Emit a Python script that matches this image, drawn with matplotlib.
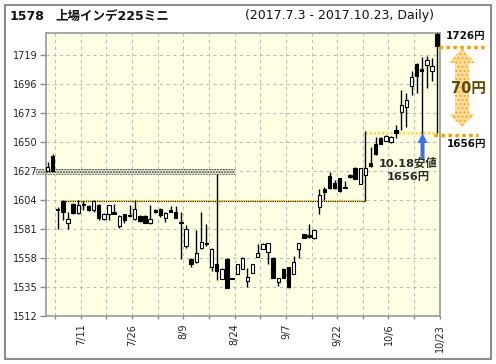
import matplotlib
matplotlib.use("Agg")
import matplotlib.pyplot as plt
import matplotlib.transforms as mtransforms
from matplotlib.patches import Rectangle, Polygon

# ----- data -----
DATES = ["7/3", "7/4", "7/5", "7/6", "7/7", "7/10", "7/11", "7/12", "7/13", "7/14",
         "7/18", "7/19", "7/20", "7/21", "7/24", "7/25", "7/26", "7/27", "7/28", "7/31",
         "8/1", "8/2", "8/3", "8/4", "8/7", "8/8", "8/9", "8/10", "8/14", "8/15",
         "8/16", "8/17", "8/18", "8/21", "8/22", "8/23", "8/24", "8/25", "8/28", "8/29",
         "8/30", "8/31", "9/1", "9/4", "9/5", "9/6", "9/7", "9/8", "9/11", "9/12",
         "9/13", "9/14", "9/15", "9/19", "9/20", "9/21", "9/22", "9/25", "9/26", "9/27",
         "9/28", "9/29", "10/2", "10/3", "10/4", "10/5", "10/6", "10/10", "10/11", "10/12",
         "10/13", "10/16", "10/17", "10/18", "10/19", "10/20", "10/23"]

OPEN = [1627, 1639, 1596.5, 1603, 1585.5, 1601, 1593.5, 1600, 1599.5, 1596,
        1600, 1589, 1592.8, 1594.7, 1583.3, 1592.8, 1592, 1589, 1591.3, 1591.5,
        1585.5, 1596, 1597, 1590, 1596, 1595, 1587, 1567.7, 1557, 1555,
        1566, 1569.5, 1551, 1553.6, 1541.7, 1557.6, 1542, 1545.7, 1549.7, 1540,
        1546.5, 1559, 1565.6, 1563, 1558.4, 1539, 1549.5, 1551, 1545.7, 1565.6,
        1577, 1576.5, 1574, 1598.7, 1612.5, 1623, 1617.8, 1621.5, 1614.3, 1624,
        1629.5, 1616.6, 1624.4, 1633.6, 1649, 1653.2, 1651.2, 1650.1, 1660, 1673.7,
        1677.7, 1695, 1712.1, 1708, 1711.7, 1707, 1736]
HIGH = [1634, 1641, 1598.5, 1604, 1595, 1602, 1604, 1603, 1600, 1604.5,
        1601, 1593.5, 1600.5, 1601.3, 1592, 1593, 1600, 1604, 1592, 1592,
        1600, 1597, 1597.5, 1594.5, 1599, 1599.5, 1595, 1584.6, 1558, 1580,
        1594.5, 1585, 1566, 1625, 1550, 1558, 1542.5, 1553.5, 1559, 1550,
        1553, 1569.5, 1570, 1570, 1558.5, 1542.5, 1550, 1551, 1560, 1569.6,
        1577.3, 1585, 1580.5, 1613, 1614.6, 1626.5, 1620, 1622, 1619, 1625,
        1630, 1629.5, 1659, 1646.4, 1654, 1654, 1656, 1655, 1663.9, 1691.7,
        1689, 1706.3, 1712.9, 1717.4, 1718.2, 1717, 1737.5]
LOW = [1627, 1627, 1581.5, 1588, 1581.5, 1593, 1593, 1596, 1595.5, 1594.5,
       1588.5, 1588, 1588.5, 1593, 1582, 1585.5, 1591, 1588.5, 1587, 1585.5,
       1585, 1594, 1591, 1587, 1594.5, 1590, 1557, 1566, 1551, 1554,
       1565.5, 1568, 1547.5, 1540.5, 1541, 1534, 1541, 1545, 1549, 1535,
       1546, 1558.5, 1565, 1553.7, 1542, 1536, 1542, 1534, 1545, 1558.4,
       1574, 1574.3, 1573.5, 1593.4, 1604.5, 1613, 1613, 1610.5, 1613.3, 1622,
       1621, 1616.5, 1603, 1630.5, 1640, 1648.5, 1651, 1649.5, 1653.3, 1659.9,
       1662, 1687.7, 1689, 1656, 1693, 1698.3, 1657]
CLOSE = [1630, 1627.5, 1596, 1595, 1589, 1593.5, 1600.5, 1600.3, 1596, 1603.5,
         1590, 1593, 1600, 1593.4, 1591.3, 1588, 1591.5, 1596.8, 1587.3, 1586,
         1589, 1595, 1592, 1594.2, 1595, 1590, 1585.5, 1581, 1553, 1562.4,
         1570.5, 1569, 1565, 1547.8, 1549.7, 1534.5, 1541, 1553, 1558.4, 1543,
         1553, 1562.4, 1569, 1569.6, 1542.5, 1542, 1542.5, 1535, 1555, 1569.6,
         1574.3, 1574.6, 1580.4, 1608, 1610.7, 1613.3, 1613.3, 1611.4, 1613.5, 1622.8,
         1621.2, 1629.2, 1629.2, 1631, 1640.5, 1648.7, 1654.7, 1654.3, 1657.4, 1679.8,
         1683.6, 1702.2, 1702.4, 1707, 1715.4, 1710.8, 1726.5]

Y_TICKS = [1512, 1535, 1558, 1581, 1604, 1627, 1650, 1673, 1696, 1719]
X_LABELS = ["7/11", "7/26", "8/9", "8/24", "9/7", "9/22", "10/6", "10/23"]

TITLE_CODE = "1578"
TITLE_NAME = "上場インデ225ミニ"
SUBTITLE = "(2017.7.3 - 2017.10.23, Daily)"

LAST_CLOSE = 1726
LOW_1018 = 1656
# ------------------------------------------

W, H = 496, 364
plt.rcParams['font.family'] = ['DejaVu Sans', 'Noto Sans CJK JP']
plt.rcParams['hatch.linewidth'] = 0.9

fig = plt.figure(figsize=(W / 100, H / 100), dpi=100)
fig.patch.set_facecolor("white")

# plot area in pixels: left 46, right 440, top 32.5, bottom 316
ax = fig.add_axes([46 / W, 1 - 316 / H, (440 - 46) / W, (316 - 32.5) / H])
ax.set_facecolor("#FFFFE3")

n = len(DATES)
xs = list(range(n))
ax.set_xlim(-0.3, 76.55)
ax.set_ylim(1512, 1737.2)

# grid / ticks
grid_pos = [i + 0.5 for i in range(1, n, 5)]
ax.set_xticks(grid_pos)
labels = []
for k, g in enumerate(grid_pos):
    labels.append(X_LABELS[k // 2] if k % 2 == 1 else "")
ax.set_xticklabels(labels, rotation=90, fontsize=7, color="#222222")
ax.set_yticks(Y_TICKS)
ax.set_yticklabels([str(v) for v in Y_TICKS], fontsize=7, color="#222222")
ax.tick_params(axis="both", colors="#888888", labelcolor="#222222", length=4.3, width=1)
ax.tick_params(axis="y", pad=2)
ax.tick_params(axis="x", length=2.5, pad=3)
ax.grid(True, color="#BDBDBD", linestyle=(0, (3, 3)), linewidth=0.8)
ax.set_axisbelow(True)
for s in ax.spines.values():
    s.set_color("#999999")
    s.set_linewidth(1.2)

# gap markers
ax.add_patch(Rectangle((-2.2, 1624.4), 36.55 + 2.2, 4.6, facecolor="#E8E8D4",
                       edgecolor="#3A3A3A", hatch="......", linewidth=0,
                       clip_on=False, zorder=1))
ax.plot([2.6, 62], [1604.4, 1604.4], color="#F5D24A", lw=0.8, zorder=1)
ax.plot([2.6, 62], [1603.6, 1603.6], color="black", lw=0.8, ls=(0, (1, 1)), zorder=1)
ax.add_patch(Rectangle((61.8, 1654.8), 76.55 - 61.8, 4.2, facecolor="#FFF9D0",
                       edgecolor="#F2CC3A", hatch="....", linewidth=0, zorder=1))

# candles
body_w = 0.66
for i in xs:
    o, h, l, c = OPEN[i], HIGH[i], LOW[i], CLOSE[i]
    ax.vlines(i, l, h, color="black", lw=1, zorder=3)
    bottom = min(o, c)
    height = max(abs(c - o), 0.8)
    face = "white" if c > o else "black"
    ax.bar(i, height, bottom=bottom, width=body_w, facecolor=face,
           edgecolor="black", linewidth=0.8, zorder=4)

# pixel coordinates (origin top-left) for annotations outside the plot
pix = mtransforms.Affine2D().scale(1 / W, -1 / H).translate(0, 1) + fig.transFigure

# figure border
fig.add_artist(Rectangle((5, 5), 486, 354, transform=pix, fill=False,
                         edgecolor="#8C8C8C", linewidth=1.5))

# title line
fig.text(10, 16, TITLE_CODE, transform=pix, fontsize=9, fontweight="bold",
         va="center", ha="left", color="#111111")
fig.text(55, 16, TITLE_NAME, transform=pix, fontsize=9, fontweight="bold",
         va="center", ha="left", color="#111111")
fig.text(245, 16, SUBTITLE, transform=pix, fontsize=9,
         va="center", ha="left", color="#111111")

# right side: 70 yen range
bt = mtransforms.blended_transform_factory(ax.transAxes, ax.transData)
def fx(p):
    return (p - 46) / 394

orange = "#F5A000"
ax.plot([fx(439), fx(484)], [LAST_CLOSE, LAST_CLOSE], transform=bt, clip_on=False,
        color=orange, lw=2.5, ls=(0, (1, 1)), solid_capstyle="butt", zorder=5)
ax.plot([fx(434), fx(478)], [LOW_1018, LOW_1018], transform=bt, clip_on=False,
        color=orange, lw=2.5, ls=(0, (1, 1)), solid_capstyle="butt", zorder=5)

fig.text(466, 36, f"{LAST_CLOSE}円", transform=pix, fontsize=7.5, fontweight="bold",
         ha="center", va="center", color="#111111")
fig.text(466, 144.5, f"{LOW_1018}円", transform=pix, fontsize=7.5, fontweight="bold",
         ha="center", va="center", color="#111111")

cx = 462
arrow = [(cx, 48), (cx + 13, 63), (cx + 7, 63), (cx + 7, 114), (cx + 13, 114),
         (cx, 127), (cx - 13, 114), (cx - 7, 114), (cx - 7, 63), (cx - 13, 63)]
fig.add_artist(Polygon(arrow, closed=True, transform=pix, facecolor="#FCDDA0",
                       edgecolor="#F5A623", hatch="....", linewidth=0))
fig.text(469, 88, f"{LAST_CLOSE - LOW_1018}円", transform=pix, fontsize=10.5,
         fontweight="bold", ha="center", va="center", color="#5C4B00")

# blue arrow at 10/18 low
bx = 422.5
blue = [(bx, 133), (bx + 5, 143), (bx + 2, 143), (bx + 2, 160), (bx - 2, 160),
        (bx - 2, 143), (bx - 5, 143)]
fig.add_artist(Polygon(blue, closed=True, transform=pix, facecolor="#3D6FF2",
                       edgecolor="none"))
fig.text(408, 163, "10.18安値", transform=pix, fontsize=8.2, fontweight="bold",
         ha="center", va="center", color="#2B2B2B")
fig.text(408, 177, f"{LOW_1018}円", transform=pix, fontsize=8.2, fontweight="bold",
         ha="center", va="center", color="#2B2B2B")

fig.savefig("out.png", dpi=100)
